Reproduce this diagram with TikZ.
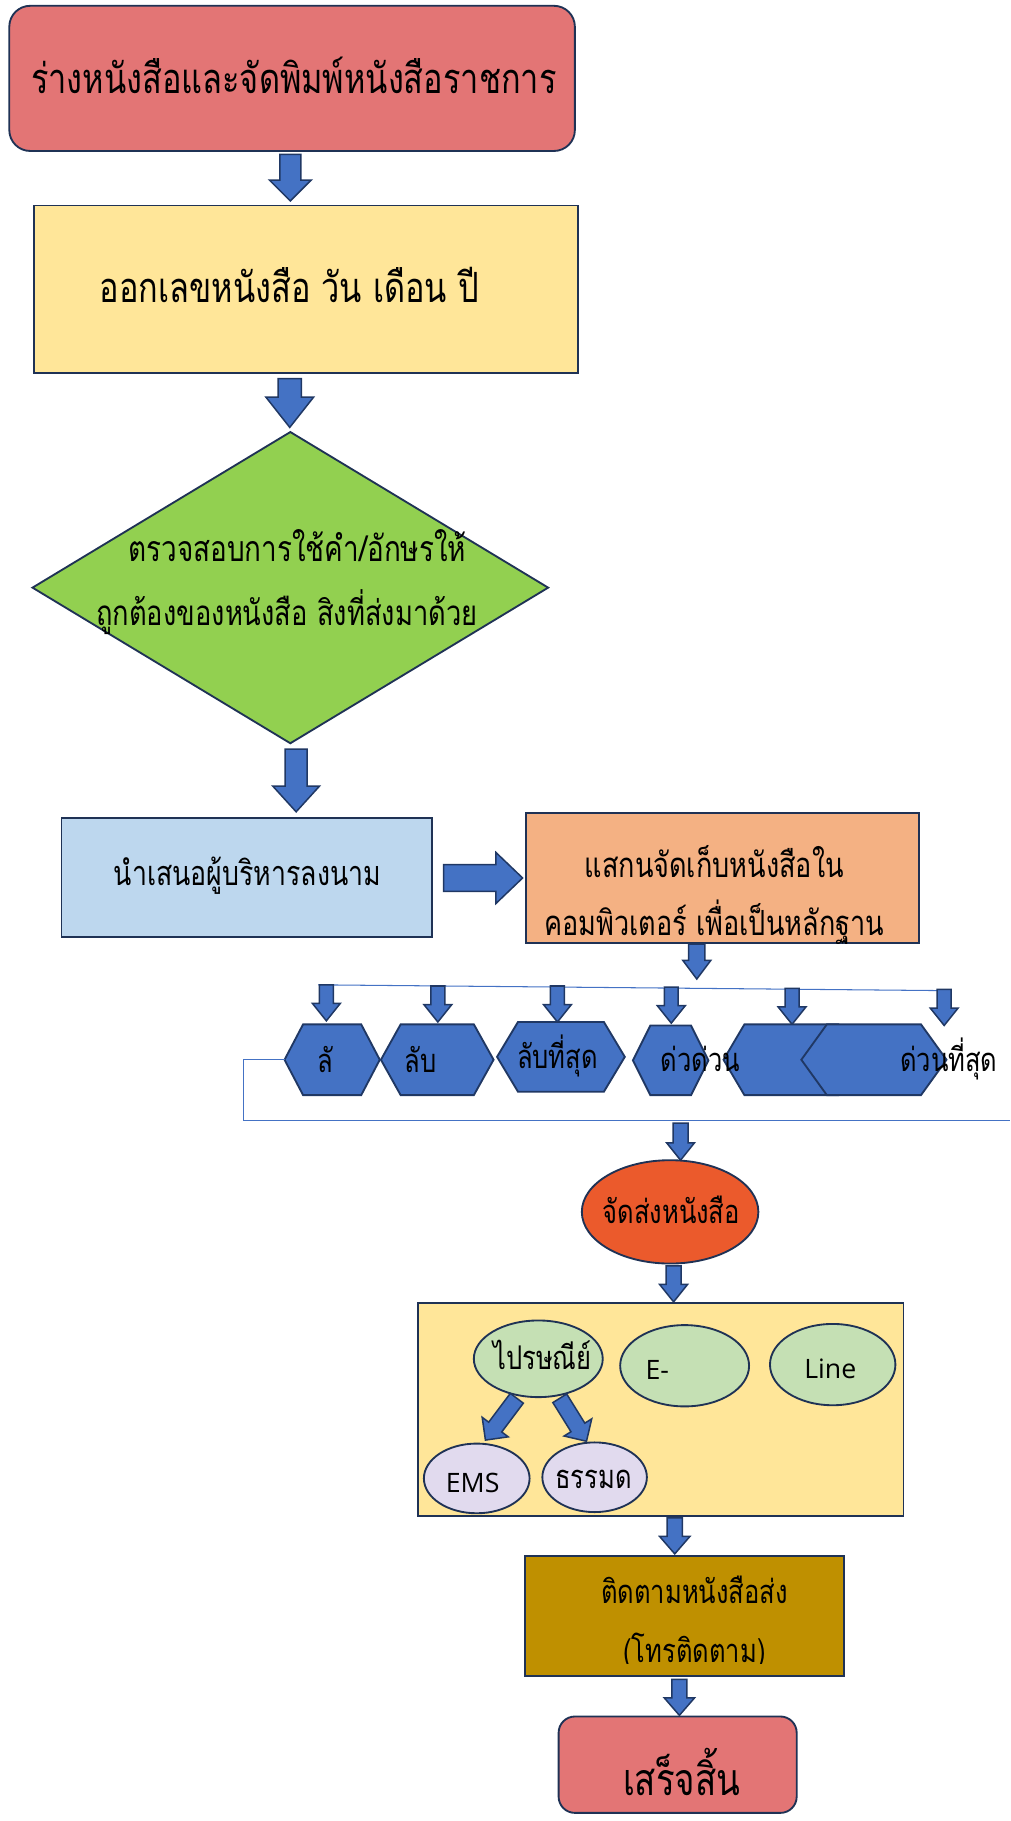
\documentclass[tikz,border=0pt]{standalone}
\usepackage{fontspec}
\usetikzlibrary{shapes.geometric,calc}
\newfontfamily\thai[Script=Thai]{Loma}
\newfontfamily\latn{Open Sans}

\definecolor{redbox}{HTML}{E37575}
\definecolor{navy}{HTML}{1F3255}
\definecolor{yel}{HTML}{FFE699}
\definecolor{grn}{HTML}{92D050}
\definecolor{ltblue}{HTML}{BDD7EE}
\definecolor{orng}{HTML}{F4B183}
\definecolor{ablue}{HTML}{4472C4}
\definecolor{aedge}{HTML}{203864}
\definecolor{redell}{HTML}{EB5A2C}
\definecolor{ltgrn}{HTML}{C5E0B4}
\definecolor{lav}{HTML}{E1DAEE}
\definecolor{brwn}{HTML}{BF9000}

\tikzset{
  shapebox/.style={draw=navy, line width=1.6pt, inner sep=0pt, outer sep=0pt},
  rbox/.style={shapebox, rectangle},
  roundbox/.style={shapebox, rectangle, rounded corners=18pt},
  ellbox/.style={shapebox, ellipse},
  blkstyle/.style={fill=ablue, draw=aedge, line width=1.3pt, line join=miter},
  hexstyle/.style={fill=ablue, draw=aedge, line width=1.6pt},
  thinline/.style={draw=ablue, line width=0.9pt},
  txt/.style={inner sep=0pt, yscale=1.28, font=\thai\fontsize{#1}{#1}\selectfont},
  ltxt/.style={inner sep=0pt, font=\latn\fontsize{#1}{#1}\selectfont},
}

% block arrow: tail point, tip point, shaft half width, head half width, head length
\newcommand\blk[5]{%
  \draw[blkstyle] let \p1=#1, \p2=#2,
      \n1={veclen(\x2-\x1,\y2-\y1)}, \n2={(\x2-\x1)/\n1}, \n3={(\y2-\y1)/\n1} in
    ({\x1-#3*\n3},{\y1+#3*\n2})
    -- ({\x1+(\n1-#5)*\n2-#3*\n3},{\y1+(\n1-#5)*\n3+#3*\n2})
    -- ({\x1+(\n1-#5)*\n2-#4*\n3},{\y1+(\n1-#5)*\n3+#4*\n2})
    -- (\p2)
    -- ({\x1+(\n1-#5)*\n2+#4*\n3},{\y1+(\n1-#5)*\n3-#4*\n2})
    -- ({\x1+(\n1-#5)*\n2+#3*\n3},{\y1+(\n1-#5)*\n3-#3*\n2})
    -- ({\x1+#3*\n3},{\y1-#3*\n2}) -- cycle;}

% stretched hexagon: left x, right x, top y, bottom y, inset
\newcommand\hexa[5]{%
  \draw[hexstyle] (#1,{-(#3+#4)/2}) -- (#1+#5,-#3) -- (#2-#5,-#3)
    -- (#2,{-(#3+#4)/2}) -- (#2-#5,-#4) -- (#1+#5,-#4) -- cycle;}

\begin{document}
\begin{tikzpicture}[x=1pt,y=1pt]
\useasboundingbox (0,0) rectangle (870,-1568);

% main chain of boxes
\node[roundbox, fill=redbox, minimum width=487, minimum height=125] (draft) at (251.5,-67.5) {};
\node[txt=28] (draftT) at (253,-65) {ร่างหนังสือและจัดพิมพ์หนังสือราชการ};

\node[rbox, fill=yel, minimum width=469, minimum height=144] (number) at (263.5,-249) {};
\node[txt=28] (numberT) at (249,-245) {ออกเลขหนังสือ วัน เดือน ปี};

\node[shapebox, diamond, fill=grn, minimum width=444, minimum height=268] (check) at (250,-506) {};
\node[txt=24] (checkA) at (256,-470) {ตรวจสอบการใช้คำ/อักษรให้};
\node[txt=23.5] (checkB) at (247,-527) {ถูกต้องของหนังสือ สิงที่ส่งมาด้วย};

\node[rbox, fill=ltblue, minimum width=319, minimum height=103] (sign) at (212.5,-755.5) {};
\node[txt=23] (signT) at (213,-754) {นำเสนอผู้บริหารลงนาม};

\node[rbox, fill=orng, minimum width=338, minimum height=112] (scan) at (622,-756) {};
\node[txt=23.3] (scanA) at (615,-742) {แสกนจัดเก็บหนังสือใน};
\begin{scope}
  \clip (453,-700) rectangle (791,-812);
  \node[txt=23.3] (scanB) at (615,-794) {คอมพิวเตอร์ เพื่อเป็นหลักฐาน};
\end{scope}

% arrows down the main chain
\blk{(250,-133)}{(250,-173)}{9}{18}{18}
\blk{(249.5,-326)}{(249.5,-368)}{10}{20.5}{26}
\blk{(255,-645)}{(255,-699)}{9.5}{20}{22}
\blk{(382,-756)}{(450,-756)}{11.5}{22}{23}
\blk{(600,-813)}{(600,-843)}{7}{12}{16}

% distribution line and the six branches
\draw[thinline] (274,-848) -- (815,-853);
\foreach \xx/\yy in {281/848,377/849,480/849,578/850,682/851,813/852}{%
  \blk{(\xx,-\yy)}{(\xx,-\yy-31)}{6}{12}{15}}

% secrecy / urgency classes
\hexa{245}{327}{882}{943}{16}
\hexa{328}{425}{882}{943}{17}
\hexa{428}{538}{880}{940}{18}
\hexa{545}{610}{883}{943}{15}
\hexa{623}{740}{882}{943}{18}
\hexa{690}{815}{882}{943}{22}
\node[txt=22] (h1) at (280,-912) {ลั};
\node[txt=22] (h2) at (362,-912) {ลับ};
\node[txt=22] (h3) at (480,-909) {ลับที่สุด};
\node[txt=22] (h4) at (603,-912) {ด่วด่วน};
\node[txt=22] (h6) at (817,-912) {ด่วนที่สุด};

\coordinate (hl) at (245,-912);
\draw[thinline] (hl) -- (210,-912) -- (210,-965) -- (870,-965);

% dispatch
\blk{(586,-967)}{(586,-999)}{6.5}{12}{15}
\node[ellbox, fill=redell, minimum width=152, minimum height=89] (send) at (577,-1043.5) {};
\node[txt=22] (sendT) at (578,-1042) {จัดส่งหนังสือ};
\blk{(580,-1090)}{(580,-1121)}{6.5}{12}{15}

\node[rbox, fill=yel, minimum width=418, minimum height=183] (channels) at (569,-1213.5) {};
\node[ellbox, fill=ltgrn, minimum width=111, minimum height=66] (post) at (463.5,-1170) {};
\node[txt=22] (postT) at (467,-1167) {ไปรษณีย์};
\node[ellbox, fill=ltgrn, minimum width=111, minimum height=70] (email) at (589.5,-1176) {};
\node[ltxt=23] (emailT) at (566,-1180) {E-};
\node[ellbox, fill=ltgrn, minimum width=108, minimum height=70] (line) at (717,-1175) {};
\node[ltxt=23] (lineT) at (715,-1179) {Line};
\node[ellbox, fill=lav, minimum width=91, minimum height=60] (ems) at (410.5,-1273) {};
\node[ltxt=23] (emsT) at (407,-1277) {EMS};
\node[ellbox, fill=lav, minimum width=90, minimum height=60] (normal) at (512,-1272) {};
\node[txt=22] (normalT) at (511,-1274) {ธรรมด};
\blk{(445,-1204)}{(418,-1240)}{7}{14}{14}
\blk{(482,-1204)}{(505,-1241)}{7}{14}{14}

% follow-up and end
\blk{(581,-1307)}{(581,-1338)}{6.5}{13}{15}
\node[rbox, fill=brwn, minimum width=275, minimum height=103] (track) at (589.5,-1391.5) {};
\node[txt=22] (trackA) at (598,-1369) {ติดตามหนังสือส่ง};
\begin{scope}
  \clip (452,-1340) rectangle (727,-1432);
  \node[txt=22] (trackB) at (598,-1422) {(โทรติดตาม)};
\end{scope}
\blk{(585,-1446)}{(585,-1477)}{6.5}{13}{15}
\node[roundbox, fill=redbox, minimum width=205, minimum height=83, rounded corners=14pt] (done) at (583.5,-1519.5) {};
\node[txt=30] (doneT) at (587,-1526) {เสร็จสิ้น};
\end{tikzpicture}
\end{document}
